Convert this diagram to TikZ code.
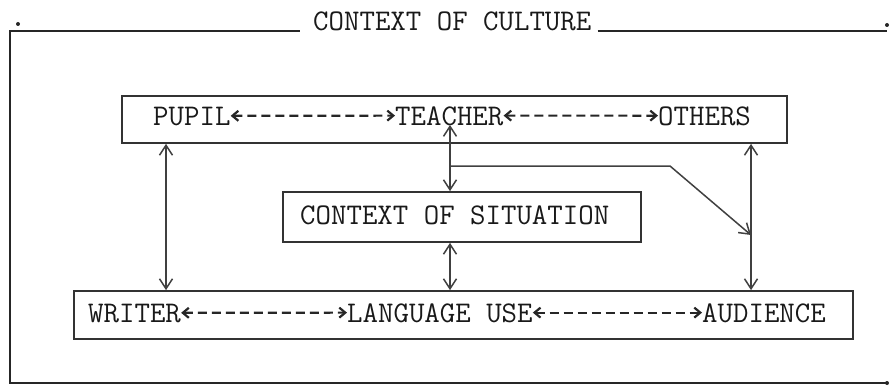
\documentclass[tikz,border=0pt]{standalone}
\usepackage{fontspec}
\usetikzlibrary{arrows.meta}
\begin{document}
\begin{tikzpicture}[x=1pt,y=-1pt,
  txt/.style={font=\fontsize{30}{32}\selectfont\ttfamily, inner sep=0pt, text depth=0pt, anchor=base west, text=black!90},
  boxline/.style={draw=black!80, line width=1.7pt, inner sep=0pt},
  varrow/.style={black!75, line width=1.5pt, {Straight Barb[length=10pt,width=13pt]}-{Straight Barb[length=10pt,width=13pt]}},
  sarrow/.style={black!75, line width=1.5pt, -{Straight Barb[length=10pt,width=13pt]}},
  darrow/.style={black!85, line width=2.2pt, dash pattern=on 9pt off 5pt, {Straight Barb[length=6pt,width=10pt]}-{Straight Barb[length=6pt,width=10pt]}},
  frame/.style={black!85, line width=2pt},
  dot/.style={fill=black!85, draw=none, circle, inner sep=0pt, minimum size=4pt}]
\useasboundingbox (0,0) rectangle (890,385);
% outer frame
\node[txt] (title) at (313,31) {CONTEXT OF CULTURE};
\coordinate (fbl) at (10,383);
\coordinate (fbr) at (887,383);
\coordinate (ftl) at (10,31);
\coordinate (ftr) at (887,31);
\draw[frame] (fbr) -- (fbl) -- (ftl) -- ([xshift=-13pt]title.base west);
\draw[frame] ([xshift=6pt]title.base east) -- (ftr);
\node[dot] (d1) at (18,24) {};
\node[dot] (d2) at (887,25) {};
\node[dot] (d3) at (887,383) {};
% boxes
\node[boxline, minimum width=665pt, minimum height=47pt] (topbox) at (454.5,119.5) {};
\node[boxline, minimum width=358pt, minimum height=50pt] (midbox) at (462,217) {};
\node[boxline, minimum width=779pt, minimum height=48pt] (botbox) at (463.5,315) {};
% texts
\node[txt] (pupil) at (153,125) {PUPIL};
\node[txt] (teacher) at (395,125) {TEACHER};
\node[txt] (others) at (658,125) {OTHERS};
\node[txt] (situation) at (300,224) {CONTEXT OF SITUATION};
\node[txt] (writer) at (88,322) {WRITER};
\node[txt] (language) at (347,322) {LANGUAGE USE};
\node[txt] (audience) at (702,322) {AUDIENCE};
% dashed arrows
\draw[darrow] (pupil.east) -- (teacher.west);
\draw[darrow] (teacher.east) -- (others.west);
\draw[darrow] (writer.east) -- (language.west);
\draw[darrow] (language.east) -- (audience.west);
% vertical connectors
\coordinate (xl) at (166,0);
\coordinate (xc) at (450,0);
\coordinate (xr) at (751,0);
\coordinate (tc) at (450,125);
\coordinate (br1) at (450,166);
\coordinate (br2) at (670,166);
\coordinate (br3) at (751,235);
\draw[varrow] (topbox.south -| xl) -- (botbox.north -| xl);
\draw[varrow] (tc) -- (midbox.north -| xc);
\draw[varrow] (midbox.south -| xc) -- (botbox.north -| xc);
\draw[varrow] (topbox.south -| xr) -- (botbox.north -| xr);
\draw[sarrow] (br1) -- (br2) -- (br3);
\end{tikzpicture}
\end{document}
